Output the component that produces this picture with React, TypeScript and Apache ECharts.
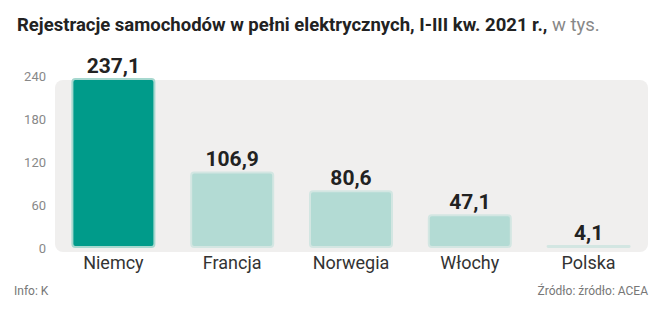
import React, { useEffect, useRef } from "react";
import * as echarts from "echarts";

const categories = ["Niemcy", "Francja", "Norwegia", "Włochy", "Polska"];
const values = [237.1, 106.9, 80.6, 47.1, 4.1];
const yTicks = [0, 60, 120, 180, 240];
const titleBold = "Rejestracje samochodów w pełni elektrycznych, I-III kw. 2021 r.,";
const titleUnit = " w tys.";
const footLeft = "Info: K";
const footRight = "Źródło: źródło: ACEA";

export default function App() {
  const ref = useRef<HTMLDivElement>(null);
  useEffect(() => {
    document.body.style.margin = "0";
    if (!ref.current) return;
    const chart = echarts.init(ref.current, null, { renderer: "svg" });
    chart.setOption({
      animation: false,
      backgroundColor: "#ffffff",
      textStyle: { fontFamily: "Roboto" },
      graphic: [
        {
          type: "rect",
          z: -10,
          shape: { x: 55, y: 80, width: 593, height: 172, r: 8 },
          style: { fill: "#f0efee" },
        },
        {
          type: "text",
          left: 17,
          top: 15,
          style: {
            text: "{b|" + titleBold + "}{n|" + titleUnit + "}",
            rich: {
              b: { fontFamily: "Roboto", fontWeight: "bold", fontSize: 18.5, fill: "#222" },
              n: { fontFamily: "Roboto", fontSize: 18.5, fill: "#888" },
            },
          },
        },
        {
          type: "text",
          left: 14,
          top: 285,
          style: { text: footLeft, fontFamily: "Roboto", fontSize: 12, fill: "#777" },
        },
        {
          type: "text",
          right: 18,
          top: 285,
          style: { text: footRight, fontFamily: "Roboto", fontSize: 12, fill: "#777" },
        },
      ],
      grid: { left: 54, right: 18, top: 76, bottom: 78 },
      xAxis: {
        type: "category",
        data: categories,
        axisLine: { show: false },
        axisTick: { show: false },
        axisLabel: { color: "#333", fontSize: 18, margin: 5, fontFamily: "Roboto" },
      },
      yAxis: {
        type: "value",
        min: 0,
        max: 240,
        interval: 60,
        axisLine: { show: false },
        axisTick: { show: false },
        splitLine: { show: false },
        axisLabel: {
          color: "#888",
          fontSize: 13,
          margin: 8,
          fontFamily: "Roboto",
          formatter: (v: number) => (yTicks.includes(v) ? String(v) : ""),
        },
      },
      series: [
        {
          type: "bar",
          barWidth: 84,
          data: values.map((v, i) => ({
            value: v,
            itemStyle:
              i === 0
                ? { color: "#009b8a", borderColor: "#a6d8cf", borderWidth: 2, borderRadius: 3 }
                : { color: "#b3dbd4", borderColor: "#d3e6e2", borderWidth: 2, borderRadius: 3 },
          })),
          label: {
            show: true,
            position: "top",
            distance: 2,
            fontFamily: "Roboto",
            fontWeight: "bold",
            fontSize: 21,
            color: "#222",
            formatter: (p: any) => String(p.value).replace(".", ","),
          },
        },
      ],
    });
    return () => chart.dispose();
  }, []);
  return <div ref={ref} style={{ width: 666, height: 326 }} />;
}
